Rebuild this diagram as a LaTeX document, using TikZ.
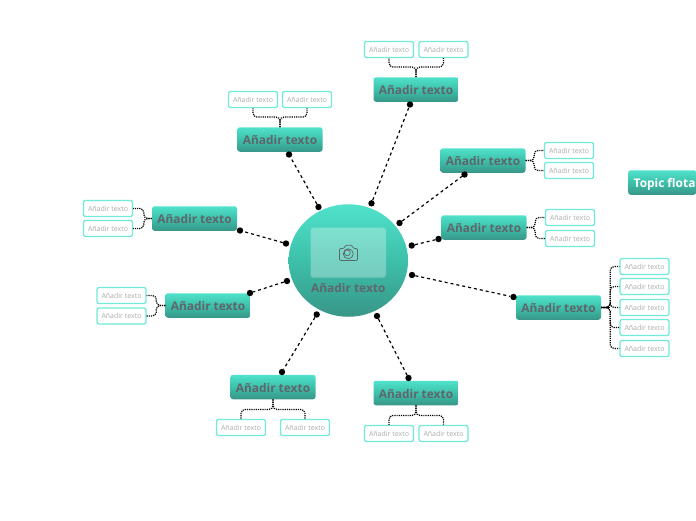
\documentclass[tikz,border=0pt]{standalone}
\usepackage{fontspec}
\setmainfont{Open Sans}
\definecolor{mintt}{HTML}{50E2CB}
\definecolor{mintm}{HTML}{3DC0AA}
\definecolor{mintd}{HTML}{389688}
\definecolor{edgem}{HTML}{70EBD9}
\definecolor{greyt}{HTML}{5F666B}
\definecolor{greys}{HTML}{ABABAB}
\begin{document}
\begin{tikzpicture}[x=1pt,y=-1pt,
    topicbox/.style={rounded corners=2.5pt,minimum width=85pt,minimum height=24.5pt,inner sep=0pt,text height=10.8pt,text depth=0pt,
      top color=mintt,bottom color=mintd,middle color=mintm,text=greyt,font=\fontsize{11.9}{14}\selectfont\bfseries},
    subbox/.style={draw=edgem,line width=1.3pt,fill=white,rounded corners=2pt,minimum width=49pt,minimum height=16pt,inner sep=0pt,
      text=greys,font=\fontsize{7}{9}\selectfont},
    dotend/.style={circle,fill=black,minimum size=6.4pt,inner sep=0pt},
    spoke/.style={black,line width=1.2pt,dash pattern=on 3pt off 3pt},
    twig/.style={black,line width=1.2pt,dash pattern=on 1.2pt off 1pt,rounded corners=4pt}]
  \useasboundingbox (0,0) rectangle (696,520);
  % central topic
  \shade[top color=mintt,bottom color=mintd,middle color=mintm] (348.3,260.5) ellipse[x radius=59.75,y radius=56.25];
  \node[fill=white,fill opacity=.3,rounded corners=3pt,minimum width=75.5pt,minimum height=50pt,inner sep=0pt] (photo) at (348.3,252.7) {};
  \node[text=greyt,inner sep=0pt,text height=10.8pt,text depth=0pt,font=\fontsize{11.9}{14}\selectfont\bfseries] (hubtext) at (348.3,287.5) {Añadir texto};
  % camera
  \draw[greyt,line width=.7pt,rounded corners=1.2pt] (339.5,248.5) -- (344,248.5) -- (345.5,245.3) -- (352,245.3) -- (353.5,248.5) -- (357.5,248.5) -- (357.5,260.5) -- (339.5,260.5) -- cycle;
  \draw[greyt,line width=.7pt] (348.3,253.8) circle[radius=5] (347.3,252.8) circle[radius=3];
  % main topics
  \foreach \n/\x/\y in {1/416/89.5,2/280/139.5,3/483/160.5,4/484/227.5,5/558.5/307.5,6/416/393,7/273/387,8/208/305.5,9/194.5/218.5}{
    \node[topicbox] (t\n) at (\x,\y) {Añadir texto};}
  \node[topicbox,minimum width=68pt,anchor=west,text=white] (tfree) at (628,182.5) {\makebox[68pt][l]{\hspace*{5.5pt}Topic flota}};
  % spokes
  \foreach \n/\xa/\ya/\xb/\yb in {1/371.5/203.3/410/104.5,2/318.5/207/289/154.5,3/399.5/223/464.5/174.5,4/411.7/245.5/438.5/239,
      5/412/275/513.5/297,6/377/316/408.5/378,7/316.7/314.5/282/372,8/287/281/250/293,9/286/243.5/240/230.5}{
    \node[dotend] (da\n) at (\xa,\ya) {};
    \node[dotend] (db\n) at (\xb,\yb) {};
    \draw[spoke] (da\n) -- (db\n);}
  % subtopics
  \foreach \n/\x/\y in {1a/389/49.5,1b/443.5/49.5,2a/253/99.5,2b/307/99.5,3a/569/150.5,3b/569/170.5,4a/570/217.5,4b/570/238.5,
      5a/644.5/266.5,5b/644.5/286.5,5c/644.5/307.5,5d/644.5/327.5,5e/644.5/348.5,6a/389/433.5,6b/443.5/433.5,
      7a/241/427.5,7b/305/427.5,8a/121.5/295.5,8b/121.5/316,9a/108/208.5,9b/108/228.5}{
    \node[subbox] (s\n) at (\x,\y) {Añadir texto};}
  % twigs up and down
  \foreach \n/\s/\a/\b/\d in {1/1a/north/south/-10,1/1b/north/south/-10,2/2a/north/south/-10,2/2b/north/south/-10,
      6/6a/south/north/10,6/6b/south/north/10,7/7a/south/north/10,7/7b/south/north/10}{
    \draw[twig] (t\n.\a) -- ++(0,\d) -| (s\s.\b);}
  % twigs left and right
  \foreach \n/\s/\a/\b/\d in {3/3a/east/west/8.5,3/3b/east/west/8.5,4/4a/east/west/8.5,4/4b/east/west/8.5,
      5/5a/east/west/9,5/5b/east/west/9,5/5c/east/west/9,5/5d/east/west/9,5/5e/east/west/9,
      8/8a/west/east/-9,8/8b/west/east/-9,9/9a/west/east/-8,9/9b/west/east/-8}{
    \draw[twig] (t\n.\a) -- ++(\d,0) |- (s\s.\b);}
  \draw[black,line width=1.8pt] (t5.east) -- ++(9,0);
\end{tikzpicture}
\end{document}
